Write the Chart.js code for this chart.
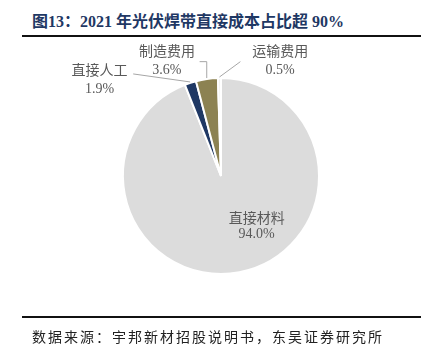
<!DOCTYPE html>
<html>
<head>
<meta charset="utf-8">
<script src="https://cdn.jsdelivr.net/npm/chart.js@4.4.0/dist/chart.umd.min.js"></script>
<style>
  body { margin: 0; width: 433px; height: 364px; background: #fff; position: relative; overflow: hidden; }
  #title { position: absolute; left: 32px; top: 11px; font: bold 16px "Liberation Serif", "Noto Sans CJK SC"; color: #1f3864; white-space: nowrap; line-height: 22px; }
  .rule { position: absolute; left: 22px; width: 399px; height: 2px; background: #111; }
  #source { position: absolute; left: 32px; top: 328px; font: 14px "Liberation Serif", "Noto Sans CJK SC"; letter-spacing: 2px; color: #222; white-space: nowrap; line-height: 20px; }
  #wrap { position: absolute; left: 0; top: 0; width: 433px; height: 364px; }
</style>
</head>
<body>
<div id="title">图13：2021 年光伏焊带直接成本占比超 90%</div>
<div class="rule" style="top:35px"></div>
<div id="wrap"><canvas id="pie"></canvas></div>
<div class="rule" style="top:316px"></div>
<div id="source">数据来源：宇邦新材招股说明书，东吴证券研究所</div>
<script>
const categories = ['直接材料', '直接人工', '制造费用', '运输费用'];
const shares = [94.0, 1.9, 3.6, 0.5];
const sliceColors = ['#dcdcdc', '#1f3864', '#8c8252', '#f2f2f2'];

// label block centre and leader points, in units of the pie radius from its centre
const labelLayout = [
  { cx: 0.36, cy: 0.51, gap: 15, leader: null },
  { cx: -1.227, cy: -0.969, gap: 18, leader: [[-0.887, -1.031]] },
  { cx: -0.546, cy: -1.155, gap: 18, leader: [['edge', -1.155], [-0.216, -1.155]] },
  { cx: 0.598, cy: -1.155, gap: 18, leader: [[0.196, -1.155]] }
];

const pieLabels = {
  id: 'pieLabels',
  afterDraw(chart) {
    const ctx = chart.ctx;
    const meta = chart.getDatasetMeta(0);
    ctx.save();
    meta.data.forEach((arc, i) => {
      const { x, y, startAngle, endAngle, outerRadius } = arc.getProps(['x', 'y', 'startAngle', 'endAngle', 'outerRadius'], true);
      const R = outerRadius + 1;
      const mid = (startAngle + endAngle) / 2;
      const ex = x + Math.cos(mid) * R;
      const ey = y + Math.sin(mid) * R;
      const lay = labelLayout[i];
      if (lay.leader) {
        ctx.strokeStyle = '#a6a6a6';
        ctx.lineWidth = 1;
        ctx.beginPath();
        ctx.moveTo(ex, ey);
        lay.leader.forEach(p => {
          const px = p[0] === 'edge' ? ex : x + p[0] * R;
          ctx.lineTo(px, y + p[1] * R);
        });
        ctx.stroke();
      }
      const bx = x + lay.cx * R;
      const by = y + lay.cy * R;
      ctx.fillStyle = '#595959';
      ctx.textAlign = 'center';
      ctx.textBaseline = 'middle';
      ctx.font = '14px "Liberation Serif", "Noto Sans CJK SC"';
      ctx.fillText(categories[i], bx, by - lay.gap / 2);
      ctx.fillText(shares[i].toFixed(1) + '%', bx, by + lay.gap / 2);
    });
    ctx.restore();
  }
};

new Chart(document.getElementById('pie'), {
  type: 'pie',
  data: {
    labels: categories,
    datasets: [{
      data: shares,
      backgroundColor: sliceColors,
      borderColor: '#ffffff',
      borderWidth: 2
    }]
  },
  options: {
    responsive: true,
    maintainAspectRatio: false,
    animation: false,
    layout: { padding: { left: 122, right: 113, top: 77, bottom: 89 } },
    plugins: { legend: { display: false }, tooltip: { enabled: false } }
  },
  plugins: [pieLabels]
});
</script>
</body>
</html>
